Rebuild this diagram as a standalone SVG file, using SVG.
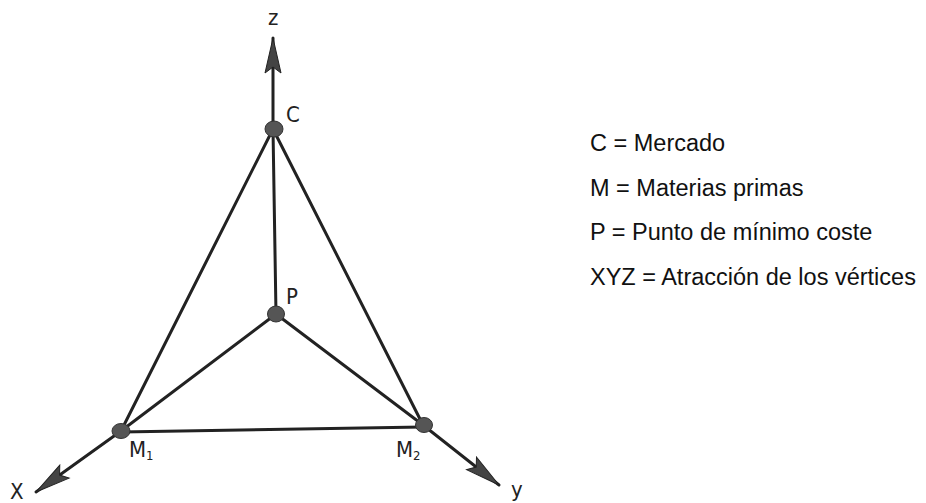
<svg xmlns="http://www.w3.org/2000/svg" width="926" height="503" viewBox="0 0 926 503">
<defs>
<style>
.ln{stroke:#222;stroke-width:3;fill:none;stroke-linecap:round}
.nd{fill:#555;stroke:#333;stroke-width:1}
.lb{font-family:"DejaVu Sans Condensed","DejaVu Sans",sans-serif;font-stretch:condensed;font-size:22px;fill:#222}
.lg{font-family:"Liberation Sans",Arial,sans-serif;font-size:23.5px;fill:#111}
</style>
<marker id="ah" markerUnits="userSpaceOnUse" markerWidth="44" markerHeight="22" viewBox="-40 -11 44 22" refX="0" refY="0" orient="auto">
<path d="M0,0 L-35,-8 L-29,0 L-35,8 Z" fill="#444" stroke="#222" stroke-width="1"/>
</marker>
</defs>
<rect width="926" height="503" fill="#fff"/>
<g id="connectors">
<line class="ln" x1="273" y1="129" x2="273" y2="38" marker-end="url(#ah)"/>
<line class="ln" x1="121" y1="431" x2="36" y2="492" marker-end="url(#ah)"/>
<line class="ln" x1="423" y1="425" x2="499" y2="485" marker-end="url(#ah)"/>
<line class="ln" x1="273" y1="129" x2="121" y2="431"/>
<line class="ln" x1="273" y1="129" x2="423" y2="425"/>
<line class="ln" x1="273" y1="129" x2="276" y2="314"/>
<line class="ln" x1="276" y1="314" x2="121" y2="431"/>
<line class="ln" x1="276" y1="314" x2="423" y2="425"/>
<line class="ln" x1="121" y1="432" x2="423" y2="427"/>
</g>
<g id="C"><ellipse class="nd" cx="274" cy="129" rx="9" ry="8"/><text class="lb" x="286" y="122">C</text></g>
<g id="P"><ellipse class="nd" cx="276" cy="314" rx="8.5" ry="8"/><text class="lb" x="286" y="304">P</text></g>
<g id="M1"><ellipse class="nd" cx="121" cy="431" rx="9" ry="7.5"/><text class="lb" x="129" y="457">M<tspan font-size="13" dy="3">1</tspan></text></g>
<g id="M2"><ellipse class="nd" cx="424" cy="425" rx="8.5" ry="7.5"/><text class="lb" x="396" y="457">M<tspan font-size="13" dy="3">2</tspan></text></g>
<g id="axes-labels">
<text class="lb" x="268" y="25">z</text>
<text class="lb" x="10" y="499" font-size="20">X</text>
<text class="lb" x="511" y="497">y</text>
</g>
<g id="legend">
<text class="lg" x="590" y="151">C = Mercado</text>
<text class="lg" x="590" y="196">M = Materias primas</text>
<text class="lg" x="590" y="240">P = Punto de mínimo coste</text>
<text class="lg" x="590" y="285">XYZ = Atracción de los vértices</text>
</g>
</svg>
